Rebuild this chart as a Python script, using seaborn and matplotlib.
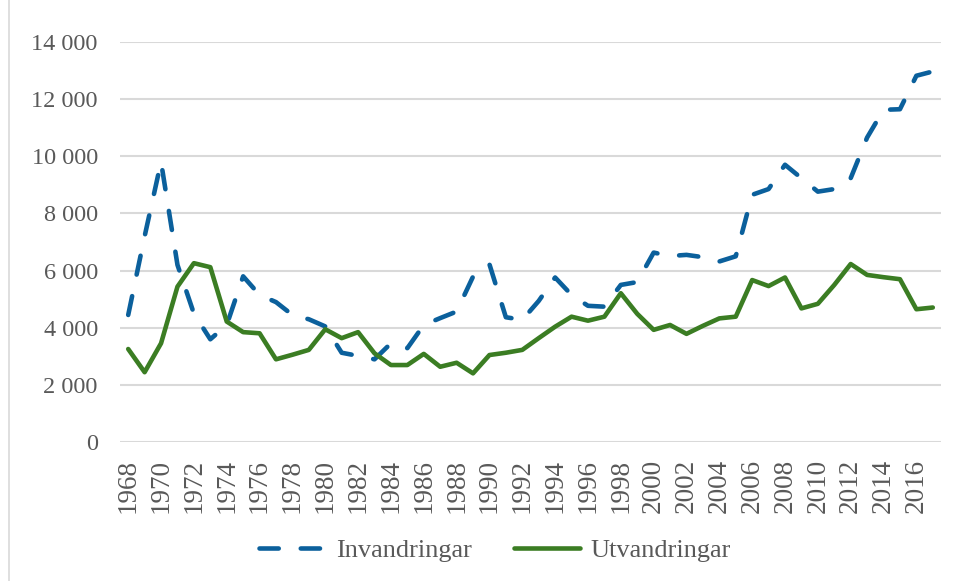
import matplotlib
matplotlib.use("Agg")
import matplotlib.pyplot as plt
import matplotlib.ticker as mticker
from matplotlib.lines import Line2D
import seaborn as sns
import pandas as pd

years = list(range(1968, 2018))
invandringar = [4450, 7200, 9800, 6200, 4500, 3600, 4100, 5800, 5150, 4900,
                4450, 4300, 4050, 3130, 3020, 2900, 3460, 3290, 4100, 4340,
                4570, 5790, 6220, 4370, 4280, 4940, 5760, 5150, 4770, 4740,
                5500, 5600, 6630, 6510, 6550, 6470, 6320, 6500, 8650, 8850,
                9700, 9230, 8760, 8850, 9230, 10650, 11620, 11640, 12810, 12960]
utvandringar = [3260, 2450, 3460, 5440, 6260, 6120, 4220, 3850, 3810, 2900,
                3060, 3230, 3950, 3640, 3850, 3110, 2700, 2700, 3090, 2640,
                2780, 2410, 3050, 3130, 3230, 3640, 4040, 4390, 4250, 4390,
                5210, 4490, 3930, 4100, 3790, 4070, 4330, 4390, 5670, 5460,
                5760, 4680, 4840, 5500, 6230, 5850, 5770, 5700, 4650, 4710]
series_names = ["Invandringar", "Utvandringar"]
yticks = [0, 2000, 4000, 6000, 8000, 10000, 12000, 14000]
xticks = list(range(1968, 2017, 2))

sns.set_theme(style="white")
plt.rcParams['font.family'] = ['Liberation Serif', 'DejaVu Serif']

df = pd.DataFrame({"year": years, series_names[0]: invandringar,
                   series_names[1]: utvandringar})

fig = plt.figure(figsize=(9.58, 5.81), dpi=100)
ax = fig.add_axes([120/958, 1 - 442.3/581, (941 - 120)/958, (442.3 - 41.7)/581])

blue = "#0B609C"
green = "#3B7D23"
text_col = "#595959"
lw = 3.3
dash = (4.2, 4.8)

sns.lineplot(data=df, x="year", y=series_names[0], ax=ax, color=blue,
             linewidth=lw, zorder=3)
sns.lineplot(data=df, x="year", y=series_names[1], ax=ax, color=green,
             linewidth=lw, zorder=3)
l_inv, l_ut = ax.get_lines()[0], ax.get_lines()[1]
l_inv.set_dashes(dash)
l_inv.set_dash_capstyle("round")
l_inv.set_solid_joinstyle("round")
l_ut.set_solid_joinstyle("round")

ax.set_xlim(1967.5, 2017.5)
ax.set_ylim(0, 14000)
ax.set_yticks(yticks)
ax.set_xticks(xticks)
ax.yaxis.set_major_formatter(mticker.FuncFormatter(
    lambda v, p: f"{int(v):,}".replace(",", " ")))
ax.set_xticklabels([str(y) for y in xticks], rotation=90)
ax.grid(axis="y", color="#d9d9d9", linewidth=1.5, zorder=0)
ax.grid(axis="x", visible=False)
for s in ax.spines.values():
    s.set_visible(False)
ax.tick_params(axis="y", length=0, pad=16, labelsize=17.5, labelcolor=text_col)
ax.tick_params(axis="x", length=0, pad=12, labelsize=19.5, labelcolor=text_col)
ax.set_xlabel("")
ax.set_ylabel("")

handles = [Line2D([], [], color=blue, linewidth=lw, dashes=dash,
                  dash_capstyle="round"),
           Line2D([], [], color=green, linewidth=lw)]
leg = fig.legend(handles, series_names, loc="center",
                 bbox_to_anchor=(495/958, 1 - 550/581), ncol=2, frameon=False,
                 fontsize=19, handlelength=2.5, handletextpad=0.4,
                 columnspacing=1.6)
for t in leg.get_texts():
    t.set_color(text_col)

fig.add_artist(Line2D([8.5/958, 8.5/958], [0, 1], transform=fig.transFigure,
                      color="#d9d9d9", linewidth=1.2))

fig.savefig("out.png", dpi=100, facecolor="white")
